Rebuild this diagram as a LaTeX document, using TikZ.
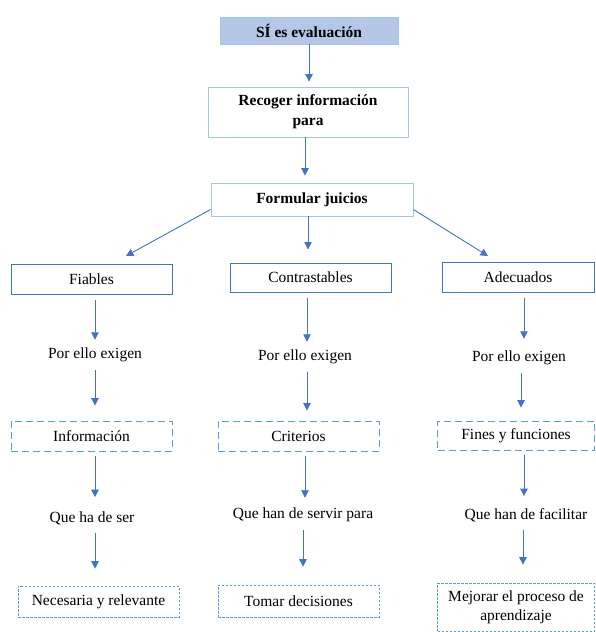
\documentclass[tikz,border=0pt]{standalone}
\usepackage{fontspec}
\setmainfont{Liberation Serif}
\usetikzlibrary{arrows.meta}

\definecolor{topfill}{HTML}{B4C7E7}
\definecolor{lightline}{HTML}{A9C4EA}
\definecolor{darkline}{HTML}{4472C4}
\definecolor{dashline}{HTML}{5B9BD5}
\definecolor{arrowcol}{HTML}{4472C4}

\tikzset{
  base/.style={font=\fontsize{15.5}{19}\selectfont, align=center, inner sep=3pt},
  topbox/.style={base, fill=topfill, draw=lightline, font=\fontsize{15.5}{19}\selectfont\bfseries},
  boldbox/.style={base, draw=lightline, line width=0.8pt, font=\fontsize{15.5}{20}\selectfont\bfseries},
  solidbox/.style={base, draw=darkline, line width=1pt},
  dashbox/.style={base, draw=dashline, line width=0.9pt, dash pattern=on 7pt off 4pt},
  dotbox/.style={base, draw=dashline, line width=0.7pt, dash pattern=on 2.5pt off 1.5pt},
  plain/.style={base},
  arr/.style={draw=arrowcol, line width=0.9pt, -{Triangle[width=7.5pt,length=7.5pt]},
    shorten <=5pt, shorten >=5pt}
}

\begin{document}
\begin{tikzpicture}[x=1pt, y=-1pt]
  \useasboundingbox (0,0) rectangle (595,632);

  % top part
  \node[topbox, minimum width=178pt, minimum height=27pt] (top) at (309,30.5) {SÍ es evaluación};
  \node[boldbox, minimum width=200pt, minimum height=50pt] (rec) at (308,112) {Recoger información\\para};
  \node[boldbox, minimum width=202pt, minimum height=33pt] (fj) at (312,199.5) {Formular juicios};

  \draw[arr, shorten <=0pt] (top) -- (top |- rec.north);
  \draw[arr, shorten <=0pt, shorten >=7pt] ([xshift=-3pt]rec.south) -- ([xshift=-3pt]rec.south |- fj.north);

  % three branches
  \node[solidbox, minimum width=161pt, minimum height=30pt] (fia) at (91.5,279) {Fiables};
  \node[solidbox, minimum width=161pt, minimum height=29pt] (con) at (310.5,277.5) {Contrastables};
  \node[solidbox, minimum width=152pt, minimum height=30pt] (ade) at (518,277) {Adecuados};

  \coordinate (fl) at (126,256);
  \coordinate (fr) at (488,256);
  \draw[arr, shorten <=0pt, shorten >=0pt] ([yshift=-10pt]fj.west) -- (fl);
  \draw[arr, shorten <=0pt, shorten >=0pt] ([yshift=-10pt]fj.east) -- (fr);
  \draw[arr, shorten <=0pt, shorten >=13pt] ([xshift=-4pt]fj.south) -- ([xshift=-4pt]fj.south |- con.north);

  % first column
  \node[plain] (p1) at (95,355) {Por ello exigen};
  \node[dashbox, minimum width=161pt, minimum height=30pt] (inf) at (91.5,436) {Información};
  \node[plain] (q1) at (92,518) {Que ha de ser};
  \node[dotbox, minimum width=161pt, minimum height=31pt] (nec) at (98.5,601.5) {Necesaria y relevante};

  \draw[arr] (p1 |- fia.south) -- (p1.north);
  \draw[arr, shorten >=15pt] (p1.south) -- (p1 |- inf.north);
  \draw[arr, shorten >=11pt] (p1 |- inf.south) -- (p1 |- q1.north);
  \draw[arr, shorten >=17pt] (p1 |- q1.south) -- (p1 |- nec.north);

  % second column
  \node[plain] (p2) at (305,357) {Por ello exigen};
  \node[dashbox, minimum width=161pt, minimum height=30pt] (cri) at (298.5,436) {Criterios};
  \node[plain] (q2) at (303,515) {Que han de servir para};
  \node[dotbox, minimum width=161pt, minimum height=32pt] (tom) at (298.5,601) {Tomar decisiones};

  \draw[arr] ([xshift=2pt]p2 |- con.south) -- ([xshift=2pt]p2.north);
  \draw[arr, shorten >=10pt] ([xshift=2pt]p2.south) -- ([xshift=2pt]p2 |- cri.north);
  \draw[arr, shorten >=7pt] (p2 |- cri.south) -- (p2 |- q2.north);
  \draw[arr, shorten >=18pt] (q2.south) -- (q2 |- tom.north);

  % third column
  \node[plain] (p3) at (519,358) {Por ello exigen};
  \node[dashbox, minimum width=157pt, minimum height=29pt] (fin) at (516,435.5) {Fines y funciones};
  \node[plain] (q3) at (526,515) {Que han de facilitar};
  \node[dotbox, minimum width=157pt, minimum height=48pt] (mej) at (516,607) {Mejorar el proceso de\\aprendizaje};

  \draw[arr, shorten >=9pt] ([xshift=5pt]p3 |- ade.south) -- ([xshift=5pt]p3.north);
  \draw[arr, shorten >=13pt] ([xshift=2pt]p3.south) -- ([xshift=2pt]p3 |- fin.north);
  \draw[arr, shorten >=9pt] ([xshift=-2pt]q3 |- fin.south) -- ([xshift=-2pt]q3.north);
  \draw[arr, shorten >=18pt] ([xshift=-3pt]q3.south) -- ([xshift=-3pt]q3 |- mej.north);
\end{tikzpicture}
\end{document}
